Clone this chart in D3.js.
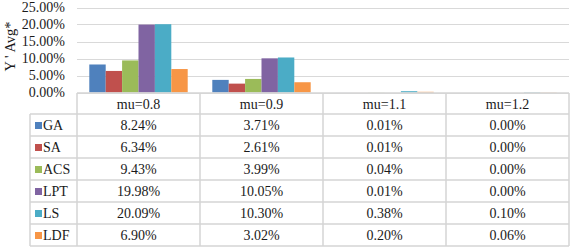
<!DOCTYPE html>
<html><head><meta charset="utf-8">
<script src="https://cdn.jsdelivr.net/npm/d3@7"></script>
<style>body{margin:0;background:#fff}svg{display:block}text{font-family:"Liberation Serif","Times New Roman",serif;fill:#1a1a1a}</style>
</head><body><svg id="c" width="572" height="250"></svg>
<script>
const categories = ["mu=0.8","mu=0.9","mu=1.1","mu=1.2"];
const seriesNames = ["GA","SA","ACS","LPT","LS","LDF"];
const GA  = [8.24, 3.71, 0.01, 0.00];
const SA  = [6.34, 2.61, 0.01, 0.00];
const ACS = [9.43, 3.99, 0.04, 0.00];
const LPT = [19.98, 10.05, 0.01, 0.00];
const LS  = [20.09, 10.30, 0.38, 0.10];
const LDF = [6.90, 3.02, 0.20, 0.06];
const yTicks = [0, 5, 10, 15, 20, 25];
const colors = ["#4F81BD","#C0504D","#9BBB59","#8064A2","#4BACC6","#F79646"];
const values = [GA, SA, ACS, LPT, LS, LDF];

(function(){
const svg = d3.select("#c");
const pl = 77, pr = 569, pt = 7.5, base = 92.5;
const x = d3.scaleBand().domain(categories).range([pl, pr]).paddingInner(0).paddingOuter(0);
const xs = d3.scaleBand().domain(seriesNames).range([0, x.bandwidth()]).paddingInner(0).paddingOuter(0.75);
const y = d3.scaleLinear().domain([0, 25]).range([base, pt]);

svg.append("g").selectAll("line").data(yTicks).join("line")
  .attr("x1", pl).attr("x2", pr)
  .attr("y1", d => Math.round(y(d)) + 0.5).attr("y2", d => Math.round(y(d)) + 0.5)
  .attr("stroke", "#d9d9d9").attr("stroke-width", 1.2);

svg.append("g").selectAll("text").data(yTicks).join("text")
  .attr("x", 65).attr("y", d => y(d)).attr("dy", "0.35em")
  .attr("text-anchor", "end").attr("font-size", 14)
  .text(d => d.toFixed(2) + "%");

svg.append("text").attr("transform", "translate(10,46.5) rotate(-90)")
  .attr("text-anchor", "middle").attr("dy", "0.35em").attr("font-size", 14.5)
  .text("Y ' Avg*");

seriesNames.forEach((s, i) => {
  svg.append("g").selectAll("rect").data(values[i]).join("rect")
    .attr("x", (d, j) => x(categories[j]) + xs(s))
    .attr("width", xs.bandwidth())
    .attr("y", d => y(d))
    .attr("height", d => base - y(d))
    .attr("fill", colors[i]);
});

const rowH = 22, headTop = 93, headBot = 114;
const g = svg.append("g");
const lineC = "#d4d4d4";
g.append("line").attr("x1", pl).attr("x2", pr).attr("y1", headTop).attr("y2", headTop).attr("stroke", lineC).attr("stroke-width",1.5);
const colEdges = categories.map(c => x(c)).concat([pr]);
colEdges.forEach(cx => {
  g.append("line").attr("x1", cx).attr("x2", cx).attr("y1", headTop).attr("y2", headBot + rowH * 6)
    .attr("stroke", lineC).attr("stroke-width", 1.5);
});
g.append("line").attr("x1", 30).attr("x2", 30).attr("y1", headBot).attr("y2", headBot + rowH * 6).attr("stroke", lineC).attr("stroke-width", 1.5);
for (let r = 0; r <= 6; r++) {
  const yy = headBot + r * rowH;
  g.append("line").attr("x1", 30).attr("x2", pr).attr("y1", yy).attr("y2", yy).attr("stroke", lineC).attr("stroke-width", 1.5);
}
g.selectAll("text.h").data(categories).join("text").attr("class","h")
  .attr("x", d => x(d) + x.bandwidth() / 2).attr("y", (headTop + headBot) / 2 + 1).attr("dy", "0.35em")
  .attr("text-anchor", "middle").attr("font-size", 14).text(d => d);

seriesNames.forEach((s, i) => {
  const cy = headBot + i * rowH + rowH / 2 + 0.5;
  g.append("rect").attr("x", 35).attr("y", cy - 3.5).attr("width", 7).attr("height", 7).attr("fill", colors[i]);
  g.append("text").attr("x", 43).attr("y", cy).attr("dy", "0.35em").attr("font-size", 14).text(s);
  g.append("g").selectAll("text").data(values[i]).join("text")
    .attr("x", (d, j) => x(categories[j]) + x.bandwidth() / 2).attr("y", cy).attr("dy", "0.35em")
    .attr("text-anchor", "middle").attr("font-size", 14).text(d => d.toFixed(2) + "%");
});
})();
</script></body></html>
